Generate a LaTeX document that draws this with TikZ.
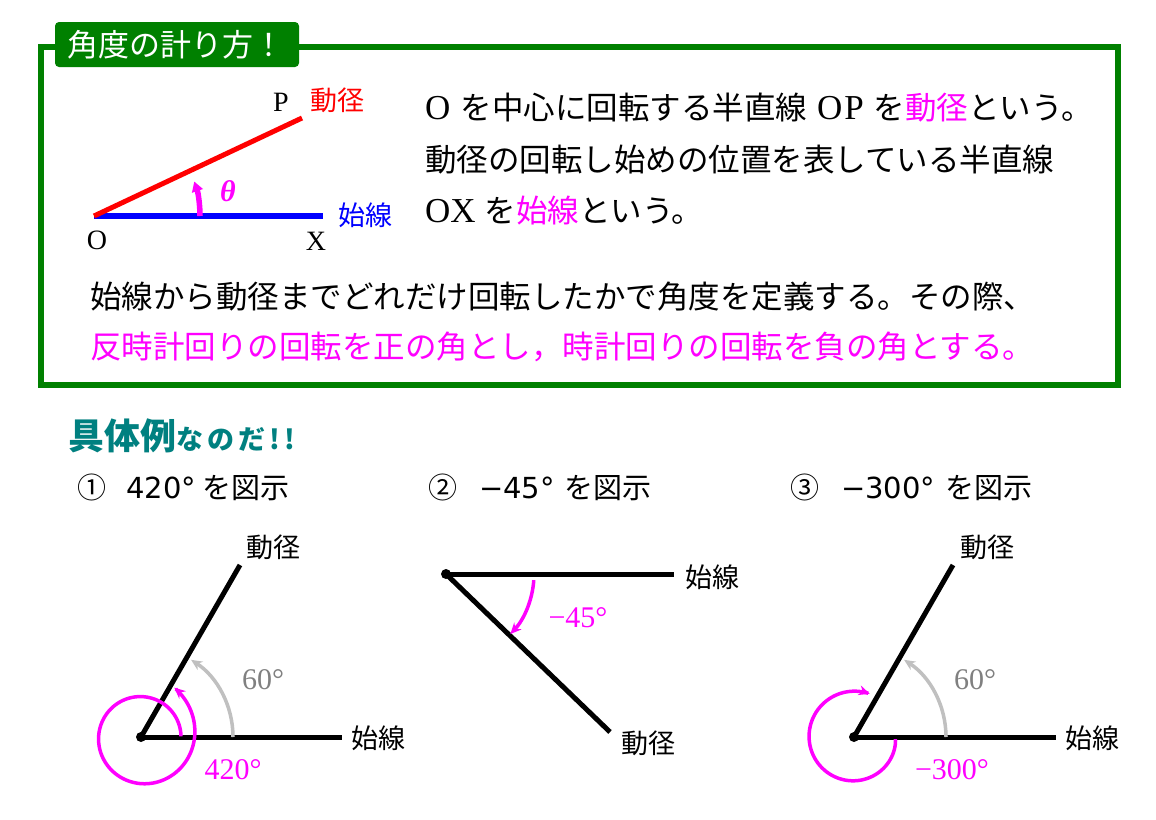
\documentclass[tikz,border=0pt]{standalone}
\usepackage{fontspec}
\setmainfont{Noto Sans CJK JP}
\newfontfamily\serfont{Liberation Serif}
\newfontfamily\dvfont{DejaVu Sans}
\usetikzlibrary{arrows.meta,calc}
\definecolor{frameg}{RGB}{0,128,0}
\definecolor{mag}{RGB}{255,0,255}
\definecolor{tealx}{RGB}{0,128,128}
\definecolor{lgray}{RGB}{192,192,192}
\definecolor{dgray}{RGB}{128,128,128}
\definecolor{pred}{RGB}{255,0,0}
\definecolor{pblue}{RGB}{0,0,255}
\newcommand{\lat}[1]{{\serfont\fontsize{35}{35}\selectfont #1}}
\tikzset{
  ray/.style={line width=5pt, black},
  dotpt/.style={fill=black},
  grayarc/.style={draw=lgray, line width=3.5pt, -{Stealth[length=11pt,width=10pt]}},
  magarc/.style={draw=mag, line width=3.5pt, -{Stealth[length=11pt,width=10pt]}},
  bodytxt/.style={anchor=west, inner sep=0pt, font=\fontsize{31.5}{32}\selectfont},
  hd/.style={anchor=west, inner sep=0pt, font=\fontsize{29}{30}\selectfont},
  lbl/.style={inner sep=0pt, font=\fontsize{27}{28}\selectfont},
  numlbl/.style={inner sep=0pt, font=\serfont\fontsize{30}{30}\selectfont},
}
\begin{document}
\begin{tikzpicture}[x=1pt,y=-1pt]
\useasboundingbox (0,0) rectangle (1156,819);
\fill[white] (0,0) rectangle (1156,819);
% frame and title tab
\draw[frameg, line width=6pt] (41,47) rectangle (1118,385);
\fill[frameg, rounded corners=4pt] (55,22) rectangle (299,67);
\node[anchor=west, inner sep=0pt, text=white, font=\fontsize{31}{31}\selectfont] (title) at (67,45) {角度の計り方！};
% top diagram
\coordinate (O) at (94,216);
\coordinate (X) at (323,216);
\coordinate (P) at (302,118);
\draw[pblue, line width=6pt] (O) -- (X);
\draw[pred, line width=5pt] (O) -- (P);
\draw[mag, line width=5.5pt, -{Triangle[length=10pt,width=11pt]}] ($(O)+(106,0)$) arc[start angle=0, end angle=-19, radius=106];
\node[inner sep=0pt, font=\serfont\fontsize{28}{28}\selectfont] (lP) at (281,102) {P};
\node[inner sep=0pt, text=pred, font=\fontsize{27}{28}\selectfont] (lPr) at (337,100) {動径};
\node[inner sep=0pt, text=mag, font=\serfont\bfseries\itshape\fontsize{30}{30}\selectfont] (lth) at (228,191) {θ};
\node[inner sep=0pt, text=pblue, font=\fontsize{27}{28}\selectfont] (lX) at (365,215) {始線};
\node[inner sep=0pt, font=\serfont\fontsize{28}{28}\selectfont] (lO) at (97,240) {O};
\node[inner sep=0pt, font=\serfont\fontsize{28}{28}\selectfont] (lXX) at (316,241) {X};
% body text
\node[bodytxt] (t1) at (425,108) {\lat{O}\hspace{3pt} を中心に回転する半直線\hspace{3pt} \lat{O\hspace{2pt}P}\hspace{3pt} を\textcolor{mag}{動径}という。};
\node[bodytxt] (t2) at (425,160) {動径の回転し始めの位置を表している半直線};
\node[bodytxt] (t3) at (425,211) {\lat{OX}\hspace{2pt} を\textcolor{mag}{始線}という。};
\node[bodytxt] (t4) at (90,297) {始線から動径までどれだけ回転したかで角度を定義する。その際、};
\node[bodytxt, text=mag] (t5) at (90,347) {反時計回りの回転を正の角とし，時計回りの回転を負の角とする。};
% example heading
\node[anchor=west, inner sep=0pt, text=tealx, font=\bfseries] (ex) at (68,436) {{\fontsize{36}{36}\selectfont 具体例}{\fontsize{27}{27}\selectfont\addfontfeature{LetterSpace=15} なのだ!!}};
\node[hd] (h1) at (77,487) {①\hspace{20pt}{\dvfont 420°}\hspace{6pt}を図示};
\node[hd] (h2) at (428,487) {②\hspace{22pt}{\dvfont −45°}\hspace{10pt}を図示};
\node[hd] (h3) at (790,487) {③\hspace{22pt}{\dvfont −300°}\hspace{10pt}を図示};
% diagram 1
\coordinate (o1) at (141,737);
\coordinate (s1) at (342,737);
\coordinate (r1) at (240,565);
\draw[ray] (o1) -- (s1);
\draw[ray] (o1) -- (r1);
\fill[dotpt] (o1) circle[radius=5];
\draw[grayarc] ($(o1)+(92,0)$) arc[start angle=0, end angle=-57, radius=92];
\draw[magarc] plot[domain=-1:-416, samples=150, smooth] ({141+(40+20*(-\x/420)^2.5)*cos(\x)}, {737+(40+20*(-\x/420)^2.5)*sin(\x)});
\node[lbl] (d1r) at (273,547) {動径};
\node[lbl] (d1s) at (378,738) {始線};
\node[numlbl, text=dgray] (d1a) at (263,680) {60°};
\node[numlbl, text=mag] (d1b) at (233,770) {420°};
% diagram 2
\coordinate (o2) at (446,574);
\coordinate (s2) at (674,574);
\coordinate (r2) at (610,732);
\draw[ray] (o2) -- (s2);
\draw[ray] (o2) -- (r2);
\fill[dotpt] (o2) circle[radius=5];
\draw[magarc] ($(o2)+(4:88)$) arc[start angle=4, end angle=43, radius=88];
\node[lbl] (d2s) at (712,577) {始線};
\node[lbl] (d2r) at (648,743) {動径};
\node[numlbl, text=mag] (d2a) at (578,618) {−45°};
% diagram 3
\coordinate (o3) at (854,737);
\coordinate (s3) at (1056,737);
\coordinate (r3) at (953,565);
\draw[ray] (o3) -- (s3);
\draw[ray] (o3) -- (r3);
\fill[dotpt] (o3) circle[radius=5];
\draw[grayarc] ($(o3)+(92,0)$) arc[start angle=0, end angle=-57, radius=92];
\draw[magarc] plot[domain=3:290, samples=120, smooth] ({854+(41+5*sqrt(\x/290))*cos(\x)}, {737+(41+5*sqrt(\x/290))*sin(\x)});
\node[lbl] (d3r) at (987,547) {動径};
\node[lbl] (d3s) at (1092,738) {始線};
\node[numlbl, text=dgray] (d3a) at (975,680) {60°};
\node[numlbl, text=mag] (d3b) at (952,770) {−300°};
\end{tikzpicture}
\end{document}
